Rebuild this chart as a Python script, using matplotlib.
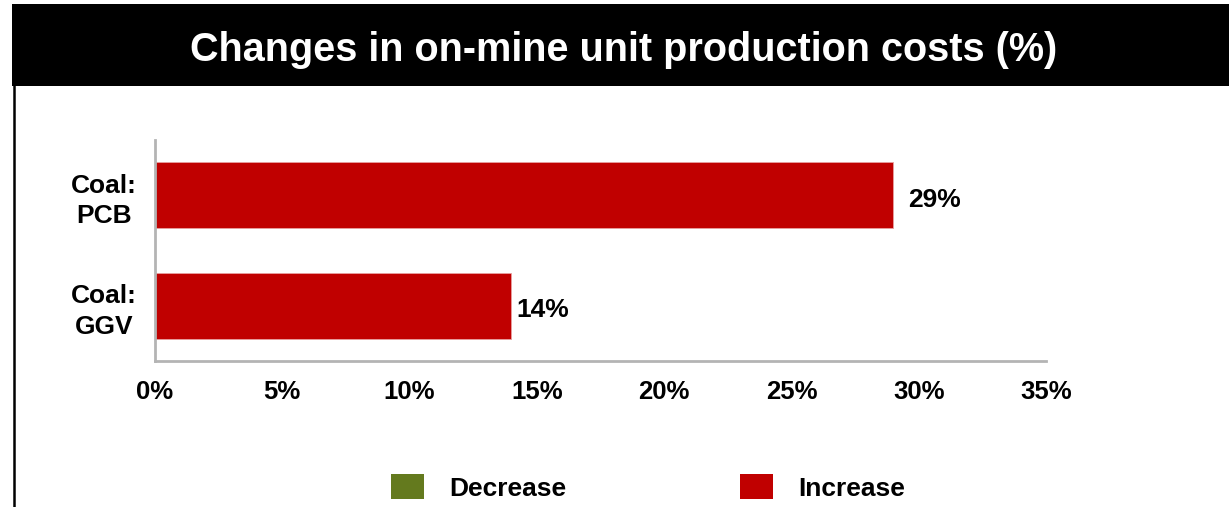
import matplotlib
matplotlib.use("Agg")
import matplotlib.pyplot as plt
from matplotlib.patches import Rectangle
from matplotlib.lines import Line2D

# Data
categories = ["Coal:\nGGV", "Coal:\nPCB"]
changes = [14, 29]           # % change in on-mine unit production cost
xticks = [0, 5, 10, 15, 20, 25, 30, 35]
legend_labels = ["Decrease", "Increase"]

INCREASE = "#C00000"
DECREASE = "#647A1E"
SPINE = "#B4B4B4"

plt.rcParams["font.family"] = ["Liberation Sans", "DejaVu Sans"]
plt.rcParams["font.weight"] = "bold"

W, H = 1229, 507
fig = plt.figure(figsize=(W / 100, H / 100), dpi=100)

# Title band
fig.patches.append(Rectangle((12 / W, 1 - 86 / H), 1 - 12 / W, 82 / H,
                             transform=fig.transFigure, facecolor="black",
                             edgecolor="none", zorder=0))
fig.text(624 / W, 1 - 50 / H, "Changes in on-mine unit production costs (%)",
         color="white", fontsize=28.5, fontweight="bold",
         ha="center", va="center")
# left frame line
fig.lines.append(Line2D([14 / W, 14 / W], [0, 1 - 86 / H],
                        transform=fig.transFigure, color="black", lw=1.8))

ax = fig.add_axes([155 / W, 1 - 361 / H, (1046 - 155) / W, (361 - 140) / H])
y = list(range(len(categories)))
colors = [INCREASE if v >= 0 else DECREASE for v in changes]
ax.barh(y, changes, height=0.6, color=colors, edgecolor="#E8A0A0", lw=0.6)

label_pad = [0.2, 0.6]
for yi, v, pad in zip(y, changes, label_pad):
    ax.text(v + pad, yi - 0.04, f"{v}%", va="center", ha="left",
            fontsize=19, fontweight="bold")

ax.set_xlim(0, 35)
ax.set_ylim(-0.5, 1.5)
ax.set_xticks(xticks)
ax.set_xticklabels([f"{t}%" for t in xticks], fontsize=18.5, fontweight="bold")
ax.set_yticks(y)
ax.set_yticklabels(categories, fontsize=19, fontweight="bold",
                   multialignment="center", linespacing=1.35)
ax.tick_params(axis="both", length=0)
ax.tick_params(axis="x", pad=14)
ax.tick_params(axis="y", pad=13)
for s in ("top", "right"):
    ax.spines[s].set_visible(False)
for s in ("left", "bottom"):
    ax.spines[s].set_color(SPINE)
    ax.spines[s].set_linewidth(2)

# Legend, drawn by hand
legend_items = [(391, DECREASE), (740, INCREASE)]
for (x0, col), lab in zip(legend_items, legend_labels):
    fig.patches.append(Rectangle((x0 / W, 1 - 499 / H), 33 / W, 25 / H,
                                 transform=fig.transFigure, facecolor=col,
                                 edgecolor="none"))
    fig.text((x0 + 58) / W, 1 - 489 / H, lab, fontsize=19,
             fontweight="bold", ha="left", va="center")

fig.savefig("out.png", dpi=100)
